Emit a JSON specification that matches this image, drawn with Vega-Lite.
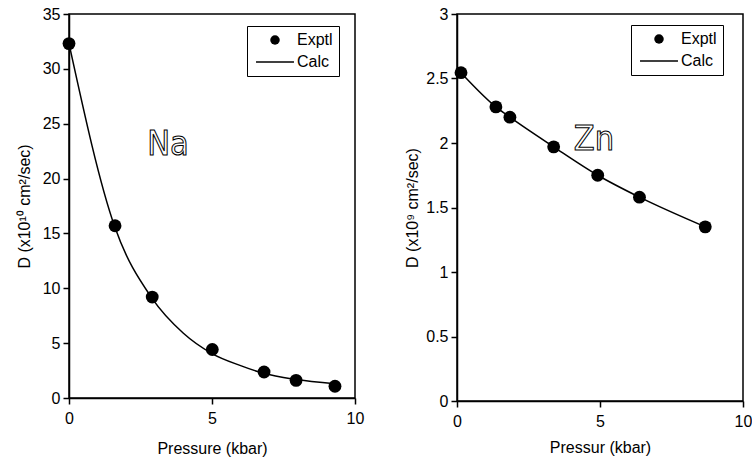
{
  "$schema": "https://vega.github.io/schema/vega-lite/v6.json",
  "background": "white",
  "padding": {"left": 15, "top": 5, "right": 5, "bottom": 5},
  "spacing": 39,
  "datasets": {
    "na_exp": [
      {"P": 0, "D": 32.3, "S": "Exptl"},
      {"P": 1.61, "D": 15.7, "S": "Exptl"},
      {"P": 2.91, "D": 9.2, "S": "Exptl"},
      {"P": 5.01, "D": 4.42, "S": "Exptl"},
      {"P": 6.82, "D": 2.37, "S": "Exptl"},
      {"P": 7.94, "D": 1.61, "S": "Exptl"},
      {"P": 9.3, "D": 1.07, "S": "Exptl"}
    ],
    "na_calc": [
      {"P": 0, "D": 32.3},
      {"P": 1.6, "D": 15.6},
      {"P": 2.9, "D": 9.1},
      {"P": 4.0, "D": 5.9},
      {"P": 5.0, "D": 4.05},
      {"P": 6.0, "D": 2.95},
      {"P": 6.8, "D": 2.25},
      {"P": 7.9, "D": 1.7},
      {"P": 9.3, "D": 1.3}
    ],
    "zn_exp": [
      {"P": 0.14, "D": 2.545, "S": "Exptl"},
      {"P": 1.36, "D": 2.28, "S": "Exptl"},
      {"P": 1.85, "D": 2.2, "S": "Exptl"},
      {"P": 3.38, "D": 1.97, "S": "Exptl"},
      {"P": 4.92, "D": 1.75, "S": "Exptl"},
      {"P": 6.38, "D": 1.58, "S": "Exptl"},
      {"P": 8.68, "D": 1.35, "S": "Exptl"}
    ],
    "zn_calc": [
      {"P": 0.14, "D": 2.545},
      {"P": 1.36, "D": 2.28},
      {"P": 1.85, "D": 2.2},
      {"P": 3.38, "D": 1.97},
      {"P": 4.92, "D": 1.75},
      {"P": 6.38, "D": 1.58},
      {"P": 8.68, "D": 1.35}
    ],
    "na_lbl": [{"t": "Na"}],
    "zn_lbl": [{"t": "Zn"}]
  },
  "config": {
    "font": "Liberation Sans",
    "view": {"stroke": "black", "strokeWidth": 1.5},
    "axis": {
      "grid": false,
      "domainColor": "black",
      "domainWidth": 1.5,
      "tickColor": "black",
      "tickWidth": 1.5,
      "tickSize": 6,
      "labelFont": "Liberation Sans",
      "labelFontSize": 16,
      "labelColor": "black",
      "titleFont": "Liberation Sans",
      "titleFontSize": 16,
      "titleFontWeight": "normal",
      "titleColor": "black"
    },
    "axisX": {"labelPadding": 6, "labelFlush": false},
    "axisY": {"labelPadding": 3},
    "legend": {
      "orient": "none",
      "strokeColor": "black",
      "strokeWidth": 1,
      "padding": 6,
      "labelFont": "Liberation Sans",
      "labelFontSize": 16,
      "labelColor": "black",
      "symbolSize": 90,
      "symbolStrokeColor": "black",
      "symbolFillColor": "black",
      "symbolStrokeWidth": 0,
      "rowPadding": 6,
      "symbolOffset": 14,
      "labelOffset": 14
    }
  },
  "resolve": {"scale": {"shape": "independent"}, "legend": {"shape": "independent"}},
  "hconcat": [
    {
      "width": 286,
      "height": 384,
      "layer": [
        {
          "data": {"name": "na_calc"},
          "mark": {"type": "line", "color": "black", "strokeWidth": 1.5, "interpolate": "monotone"},
          "encoding": {
            "x": {"field": "P", "type": "quantitative", "scale": {"domain": [0, 10]}, "axis": {"values": [0, 5, 10], "title": "Pressure (kbar)", "titlePadding": 14}},
            "y": {"field": "D", "type": "quantitative", "scale": {"domain": [0, 35]}, "axis": {"values": [0, 5, 10, 15, 20, 25, 30, 35], "title": "D (x10¹⁰ cm²/sec)", "titlePadding": 10}}
          }
        },
        {
          "data": {"name": "na_exp"},
          "mark": {"type": "point", "filled": true, "color": "black", "size": 165, "opacity": 1},
          "encoding": {
            "x": {"field": "P", "type": "quantitative"},
            "y": {"field": "D", "type": "quantitative"},
            "shape": {
              "field": "S", "type": "nominal",
              "scale": {"domain": ["Exptl", "Calc"], "range": ["circle", "M-4,-0.17L4,-0.17L4,0.17L-4,0.17Z"]},
              "legend": {
                "title": null,
                "legendX": 178,
                "legendY": 12,
                "encode": {"symbols": {"update": {"fill": {"value": "black"}, "opacity": {"value": 1}, "fillOpacity": {"value": 1}}}}
              }
            }
          }
        },
        {
          "data": {"name": "na_lbl"},
          "mark": {"type": "text", "font": "DejaVu Sans Condensed, Liberation Sans", "fontSize": 34, "fill": "white", "stroke": "black", "strokeWidth": 1, "baseline": "middle", "align": "center"},
          "encoding": {
            "text": {"field": "t"},
            "x": {"datum": 3.46},
            "y": {"datum": 23.1}
          }
        }
      ]
    },
    {
      "width": 286,
      "height": 387,
      "layer": [
        {
          "data": {"name": "zn_calc"},
          "mark": {"type": "line", "color": "black", "strokeWidth": 1.5, "interpolate": "monotone"},
          "encoding": {
            "x": {"field": "P", "type": "quantitative", "scale": {"domain": [0, 10]}, "axis": {"values": [0, 5, 10], "title": "Pressur (kbar)", "titlePadding": 10}},
            "y": {"field": "D", "type": "quantitative", "scale": {"domain": [0, 3]}, "axis": {"values": [0, 0.5, 1, 1.5, 2, 2.5, 3], "format": "~g", "title": "D (x10⁹ cm²/sec)", "titlePadding": 5}}
          }
        },
        {
          "data": {"name": "zn_exp"},
          "mark": {"type": "point", "filled": true, "color": "black", "size": 165, "opacity": 1},
          "encoding": {
            "x": {"field": "P", "type": "quantitative"},
            "y": {"field": "D", "type": "quantitative"},
            "shape": {
              "field": "S", "type": "nominal",
              "scale": {"domain": ["Exptl", "Calc"], "range": ["circle", "M-4,-0.17L4,-0.17L4,0.17L-4,0.17Z"]},
              "legend": {
                "title": null,
                "legendX": 174,
                "legendY": 11,
                "encode": {"symbols": {"update": {"fill": {"value": "black"}, "opacity": {"value": 1}, "fillOpacity": {"value": 1}}}}
              }
            }
          }
        },
        {
          "data": {"name": "zn_lbl"},
          "mark": {"type": "text", "font": "DejaVu Sans Condensed, Liberation Sans", "fontSize": 34, "fill": "white", "stroke": "black", "strokeWidth": 1, "baseline": "middle", "align": "center"},
          "encoding": {
            "text": {"field": "t"},
            "x": {"datum": 4.79},
            "y": {"datum": 2.02}
          }
        }
      ]
    }
  ]
}
